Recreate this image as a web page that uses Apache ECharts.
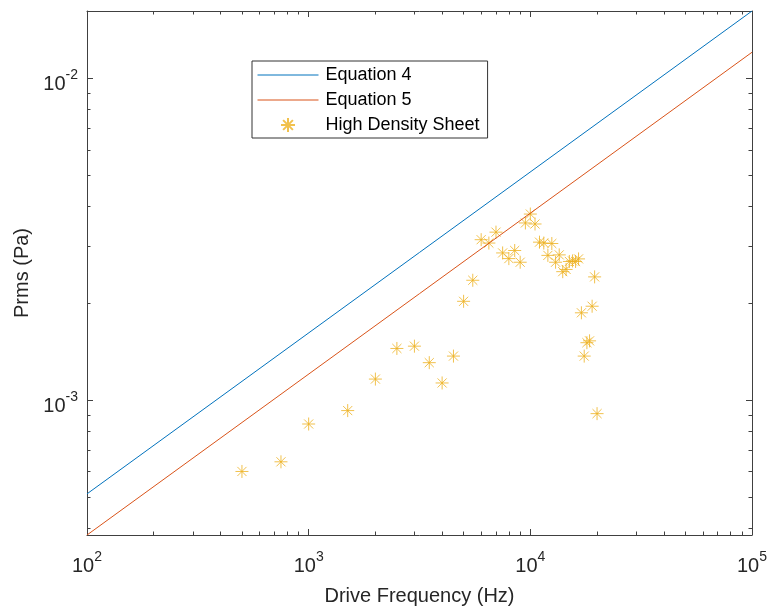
<!DOCTYPE html>
<html>
<head>
<meta charset="utf-8">
<title>Prms vs Drive Frequency</title>
<script src="https://cdn.jsdelivr.net/npm/echarts@6/dist/echarts.min.js"></script>
<style>
  html, body { margin: 0; padding: 0; background: #fff; }
  #chart { width: 772px; height: 611px; }
</style>
</head>
<body>
<div id="chart"></div>
<script>
// measured data (High Density Sheet)
const freqHz = [500, 750, 1000, 1500, 2000, 2500, 3000, 3500, 4000, 4500,
  5000, 5500, 6000, 6500, 7000, 7500, 8000, 8500, 9000, 9500,
  10000, 10500, 11000, 11500, 12000, 12500, 13000, 13500, 14000, 14500,
  15000, 15500, 16000, 16500, 17000, 17500, 18000, 18500, 19000, 19500, 20000];
const prmsPa = [6.01e-4, 6.44e-4, 8.44e-4, 9.29e-4, 1.164e-3, 1.449e-3, 1.473e-3, 1.309e-3, 1.132e-3, 1.372e-3,
  2.03e-3, 2.36e-3, 3.155e-3, 3.08e-3, 3.33e-3, 2.87e-3, 2.756e-3, 2.92e-3, 2.685e-3, 3.556e-3,
  3.79e-3, 3.53e-3, 3.10e-3, 3.08e-3, 2.82e-3, 3.07e-3, 2.685e-3, 2.83e-3, 2.51e-3, 2.55e-3,
  2.70e-3, 2.71e-3, 2.70e-3, 2.75e-3, 1.87e-3, 1.372e-3, 1.51e-3, 1.53e-3, 1.96e-3, 2.418e-3, 9.09e-4];

// model lines (straight on log-log, end points)
const eqFreq = [100, 100000];
const eq4Prms = [5.12e-4, 0.0162];
const eq5Prms = [3.815e-4, 0.01206];

// axis ticks
const xMajorTicks = [100, 1000, 10000, 100000];
const xMinorTicks = [200, 300, 400, 500, 600, 700, 800, 900,
  2000, 3000, 4000, 5000, 6000, 7000, 8000, 9000,
  20000, 30000, 40000, 50000, 60000, 70000, 80000, 90000];
const yMajorTicks = [0.001, 0.01];
const yMinorTicks = [0.0004, 0.0005, 0.0006, 0.0007, 0.0008, 0.0009,
  0.002, 0.003, 0.004, 0.005, 0.006, 0.007, 0.008, 0.009];

const xRange = [100, 100000];
const yRange = [3.815e-4, 0.0162];

const FONT = '"Liberation Sans", Arial, Helvetica, sans-serif';
const AXIS_COLOR = '#404040';
const ASTERISK = 'path://M10,0L10,20M0,10L20,10M3,3L17,17M3,17L17,3';

const powLabel = (v) => '{b|10}{s|' + Math.round(Math.log10(v)) + '}';
const labelRich = {
  b: { fontSize: 20, lineHeight: 26, verticalAlign: 'bottom', fontFamily: FONT, color: '#262626' },
  s: { fontSize: 14, lineHeight: 14, verticalAlign: 'top', fontFamily: FONT, color: '#262626' }
};

function tickAxis(type, pos, values, len, withLine) {
  return {
    type: 'log', position: pos, logBase: 10,
    min: type === 'x' ? xRange[0] : yRange[0],
    max: type === 'x' ? xRange[1] : yRange[1],
    axisLine: { show: withLine, lineStyle: { color: AXIS_COLOR, width: 1 } },
    axisTick: { show: true, inside: true, length: len, customValues: values,
      lineStyle: { color: AXIS_COLOR, width: 1 } },
    axisLabel: { show: false },
    splitLine: { show: false },
    minorTick: { show: false }
  };
}

const xMain = tickAxis('x', 'bottom', xMajorTicks, 6, true);
xMain.axisLabel = { show: true, customValues: xMajorTicks, margin: 15, formatter: powLabel, rich: labelRich };
xMain.name = 'Drive Frequency (Hz)';
xMain.nameLocation = 'middle';
xMain.nameGap = 51;
xMain.nameTextStyle = { fontSize: 20, fontFamily: FONT, color: '#262626' };

const yMain = tickAxis('y', 'left', yMajorTicks, 6, true);
yMain.axisLabel = { show: true, customValues: yMajorTicks, margin: 9, formatter: powLabel, rich: labelRich, padding: [6, 0, 0, 0] };
yMain.name = 'Prms (Pa)';
yMain.nameLocation = 'middle';
yMain.nameGap = 54;
yMain.nameTextStyle = { fontSize: 20, fontFamily: FONT, color: '#262626' };

const chart = echarts.init(document.getElementById('chart'));
chart.setOption({
  animation: false,
  backgroundColor: '#fff',
  grid: { left: 87, right: 20, top: 11, bottom: 75 },
  legend: {
    orient: 'vertical', left: 252, top: 61,
    padding: [5, 8, 4, 5],
    itemWidth: 61, itemHeight: 14, itemGap: 7,
    borderColor: '#333', borderWidth: 1, backgroundColor: '#fff',
    lineStyle: { width: 1 },
    textStyle: { fontSize: 18, fontFamily: FONT, color: '#000', padding: [0, 0, 0, 2] },
    data: [
      { name: 'Equation 4', itemStyle: { opacity: 0 } },
      { name: 'Equation 5', itemStyle: { opacity: 0 } },
      { name: 'High Density Sheet' }
    ]
  },
  xAxis: [
    xMain,
    tickAxis('x', 'bottom', xMinorTicks, 3.5, false),
    tickAxis('x', 'top', xMajorTicks, 6, true),
    tickAxis('x', 'top', xMinorTicks, 3.5, false)
  ],
  yAxis: [
    yMain,
    tickAxis('y', 'left', yMinorTicks, 3.5, false),
    tickAxis('y', 'right', yMajorTicks, 6, true),
    tickAxis('y', 'right', yMinorTicks, 3.5, false)
  ],
  series: [
    {
      name: 'Equation 4', type: 'line', showSymbol: false, symbol: 'none',
      data: eqFreq.map((f, i) => [f, eq4Prms[i]]),
      lineStyle: { color: '#0072BD', width: 1 }, itemStyle: { color: '#0072BD' }
    },
    {
      name: 'Equation 5', type: 'line', showSymbol: false, symbol: 'none',
      data: eqFreq.map((f, i) => [f, eq5Prms[i]]),
      lineStyle: { color: '#D95319', width: 1 }, itemStyle: { color: '#D95319' }
    },
    {
      name: 'High Density Sheet', type: 'scatter',
      symbol: ASTERISK, symbolSize: 13,
      data: freqHz.map((f, i) => [f, prmsPa[i]]),
      itemStyle: { color: 'rgba(0,0,0,0)', borderColor: '#EDB120', borderWidth: 1 }
    }
  ]
});
</script>
</body>
</html>
